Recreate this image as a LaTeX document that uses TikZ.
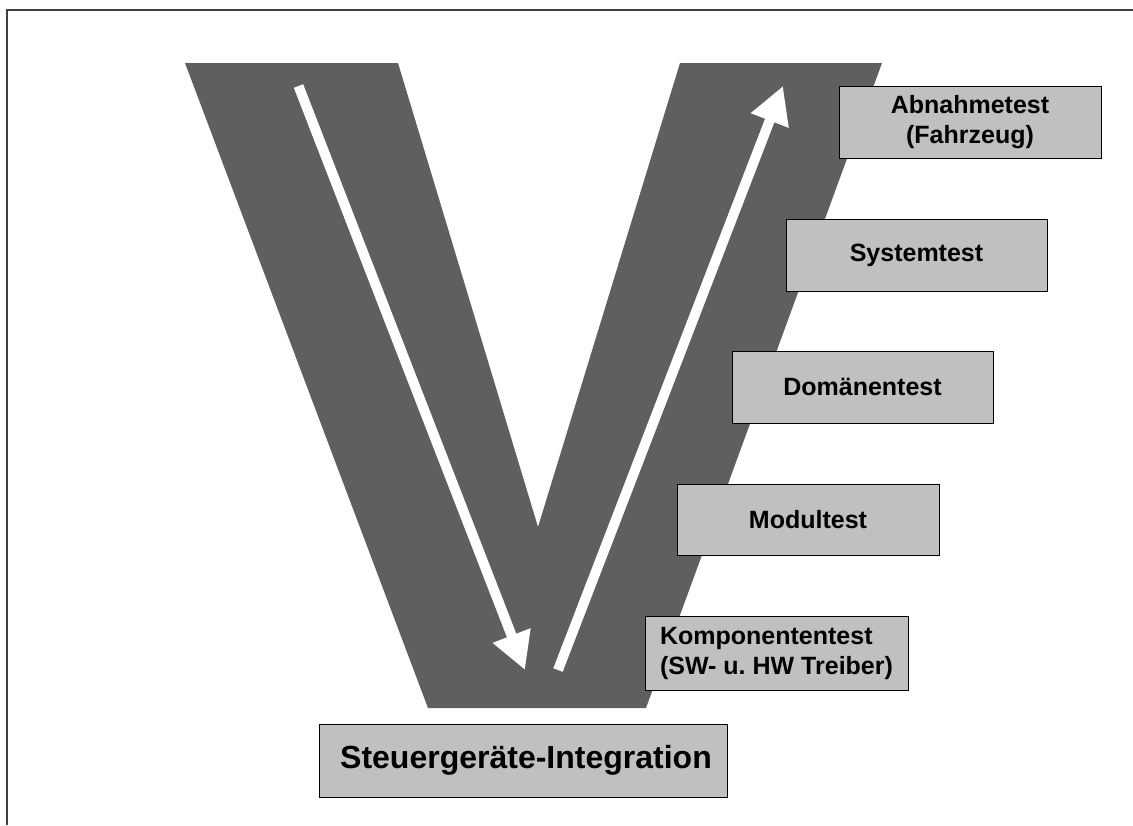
\documentclass[tikz,border=0pt]{standalone}
\usepackage{fontspec}
\setmainfont{Liberation Sans}
\usetikzlibrary{arrows.meta}
\definecolor{vgray}{RGB}{95,95,95}
\definecolor{boxgray}{RGB}{192,192,192}
\definecolor{framegray}{RGB}{64,64,64}
\frenchspacing
\begin{document}
\begin{tikzpicture}[x=1pt,y=-1pt,
  stagebox/.style={draw=black,line width=1pt,fill=boxgray,inner sep=0pt,
    font=\fontsize{25}{30}\selectfont\bfseries,text=black},
  flow/.style={draw=white,line width=10pt,
    -{Triangle[length=37pt,width=38pt]}}]
\useasboundingbox (0,0) rectangle (1133,825);
% frame lines (top and left)
\draw[framegray,line width=2pt] (1133,10) -- (6.5,10) -- (6.5,825);
% the V
\fill[vgray] (185,63) -- (398,63) -- (538,527) -- (680,63) -- (882,63)
  -- (646,708) -- (428,708) -- cycle;
% flow arrows
\coordinate (dstart) at (298.5,86);
\coordinate (dend) at (525,670);
\coordinate (ustart) at (558,670);
\coordinate (uend) at (783,86);
\draw[flow] (dstart) -- (dend);
\draw[flow] (ustart) -- (uend);
% test stages
\node[stagebox,minimum width=262pt,minimum height=72pt,align=center]
  (abn) at (970,122) {Abnahmetest\\(Fahrzeug)};
\node[stagebox,minimum width=261pt,minimum height=72pt]
  (sys) at (916.5,255) {Systemtest};
\node[stagebox,minimum width=261pt,minimum height=72pt]
  (dom) at (862.5,387) {Domänentest};
\node[stagebox,minimum width=262pt,minimum height=71pt]
  (mod) at (808,519.5) {Modultest};
\node[stagebox,minimum width=263pt,minimum height=74pt,align=left]
  (komp) at (776.5,653) {Komponententest\\(SW- u. HW Treiber)};
\node[stagebox,minimum width=408pt,minimum height=73pt,
  font=\fontsize{32}{36}\selectfont\bfseries]
  (sgi) at (523,760.5) {\hspace*{6pt}Steuergeräte-Integration};
\end{tikzpicture}
\end{document}
